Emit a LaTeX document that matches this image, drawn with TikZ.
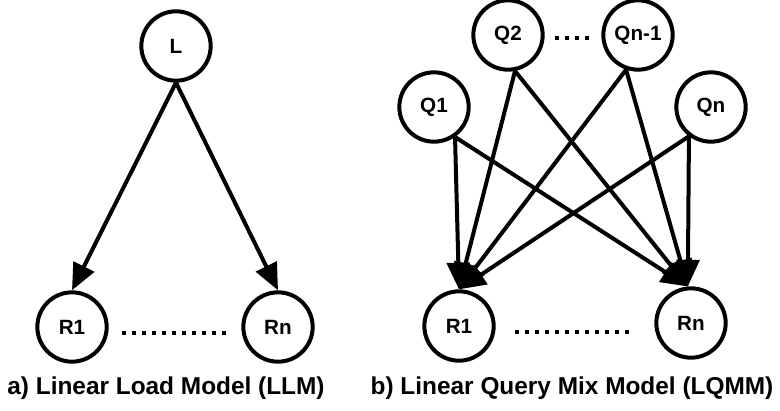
\documentclass[tikz,border=0pt]{standalone}
\usepackage{fontspec}
\setmainfont{Liberation Sans}
\usetikzlibrary{arrows.meta}

\tikzset{
    state/.style = {draw, circle, line width = 3pt, minimum size = 52pt, inner sep = 0pt,
        font = \fontsize{15.5}{17}\selectfont\bfseries},
    link/.style = {line width = 3pt, -{Triangle[length = 20pt, width = 17pt]}},
    gap/.style = {line width = 3pt, dash pattern = on 3pt off 4.5pt},
    caption/.style = {font = \fontsize{18.3}{20}\selectfont\bfseries}
}

\begin{document}
\begin{tikzpicture}[x = 0.75pt, y = -0.75pt]
            \useasboundingbox (0,0) rectangle (780,410);
            \node[state] (L) at (176,46) {L};
            \node[state] (aR1) at (72,327) {R1};
            \node[state] (aRn) at (278,327) {Rn};
            \draw[link] (L.south) -- (aR1.north);
            \draw[link] (L.south) -- (aRn.north);
            \draw[gap] ([xshift = 10pt, yshift = -4.5pt]aR1.east) -- ([xshift = -8.6pt, yshift = -4.5pt]aRn.west);
            \node[caption] (capA) at (166,388) {a) Linear Load Model (LLM)};
            \node[state] (Q1) at (434,107) {Q1};
            \node[state] (Q2) at (508,35) {Q2};
            \node[state] (Qm) at (638,35) {Qn-1};
            \node[state] (Qn) at (711,107) {Qn};
            \node[state] (bR1) at (459,326) {R1};
            \node[state] (bRn) at (691,323) {Rn};
            \draw[gap] ([xshift = 7.5pt, yshift = -2.25pt]Q2.east) -- ([xshift = -8.6pt, yshift = -2.25pt]Qm.west);
            \draw[link] (Q1.-55) -- (bR1.north);
            \draw[link] (Q1.-55) -- (bRn.95);
            \draw[link] (Q2.-79) -- (bR1.north);
            \draw[link] (Q2.-79) -- (bRn.95);
            \draw[link] (Qm.-109) -- (bR1.north);
            \draw[link] (Qm.-109) -- (bRn.95);
            \draw[link] (Qn.-127) -- (bR1.north);
            \draw[link] (Qn.-127) -- (bRn.95);
            \draw[gap] ([xshift = 14.6pt, yshift = -4.5pt]bR1.east) -- ([xshift = -14.6pt, yshift = -6.75pt]bRn.west);
            \node[caption] (capB) at (572,388) {b) Linear Query Mix Model (LQMM)};
\end{tikzpicture}
\end{document}
